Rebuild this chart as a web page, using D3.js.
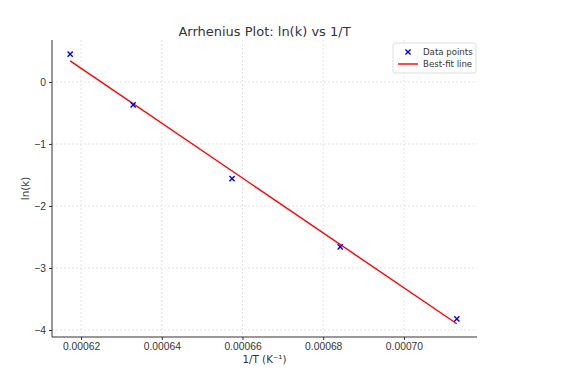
<!DOCTYPE html>
<html>
<head>
<meta charset="utf-8">
<script src="https://cdn.jsdelivr.net/npm/d3@7"></script>
<style>
  body { margin: 0; background: #fff; }
  svg { font-family: "DejaVu Sans", sans-serif; }
  .grid line { stroke: #dcdcdc; stroke-dasharray: 2,2; stroke-width: 0.8; }
  .axis path, .axis line { stroke: #333; }
  .axis text { fill: #333; font-size: 10.3px; }
</style>
</head>
<body>
<div id="chart"></div>
<script>
// inverse temperature (1/K) and ln(k)
const invT = [0.0006173, 0.0006329, 0.0006574, 0.0006842, 0.0007131];
const lnK = [0.45, -0.37, -1.56, -2.66, -3.82];
// best-fit line, drawn from first to last point
const fitX = [0.0006173, 0.0007131];
const fitY = [0.34, -3.90];
const xTicks = [0.00062, 0.00064, 0.00066, 0.00068, 0.00070];
const yTicks = [0, -1, -2, -3, -4];

const width = 577, height = 370;
const margin = { top: 40, right: 100, bottom: 33, left: 52 };
const w = width - margin.left - margin.right;
const h = height - margin.top - margin.bottom;

const svg = d3.select("#chart").append("svg")
  .attr("width", width).attr("height", height);
const g = svg.append("g").attr("transform", `translate(${margin.left},${margin.top})`);

const x = d3.scaleLinear().domain([0.0006128, 0.0007181]).range([0, w]);
const y = d3.scaleLinear().domain([-4.113, 0.677]).range([h, 0]);

// grid
g.append("g").attr("class", "grid")
  .selectAll("line").data(xTicks).enter().append("line")
  .attr("x1", d => x(d)).attr("x2", d => x(d)).attr("y1", 0).attr("y2", h);
g.append("g").attr("class", "grid")
  .selectAll("line").data(yTicks).enter().append("line")
  .attr("y1", d => y(d)).attr("y2", d => y(d)).attr("x1", 0).attr("x2", w);

// axes
g.append("g").attr("class", "axis")
  .attr("transform", `translate(0,${h})`)
  .call(d3.axisBottom(x).tickValues(xTicks).tickSize(3).tickPadding(3).tickFormat(d3.format(".5f")))
  .call(a => a.select(".domain").attr("d", `M0,0H${w}`));
g.append("g").attr("class", "axis")
  .call(d3.axisLeft(y).tickValues(yTicks).tickSize(3).tickPadding(3).tickFormat(d => d < 0 ? "\u2212" + Math.abs(d) : d))
  .call(a => a.select(".domain").attr("d", `M0,0V${h}`));

// fit line
g.append("line")
  .attr("x1", x(fitX[0])).attr("y1", y(fitY[0]))
  .attr("x2", x(fitX[1])).attr("y2", y(fitY[1]))
  .attr("stroke", "red").attr("stroke-width", 1.4);

// markers
const s = 2.6;
g.selectAll(".pt").data(invT.map((v, i) => [v, lnK[i]])).enter()
  .append("path").attr("class", "pt")
  .attr("d", d => {
    const cx = x(d[0]), cy = y(d[1]);
    return `M${cx - s},${cy - s}L${cx + s},${cy + s}M${cx - s},${cy + s}L${cx + s},${cy - s}`;
  })
  .attr("stroke", "blue").attr("stroke-width", 1.4);

// labels
svg.append("text").attr("x", margin.left + w / 2).attr("y", 36)
  .attr("text-anchor", "middle").attr("font-size", "13px").attr("fill", "#333")
  .text("Arrhenius Plot: ln(k) vs 1/T");
svg.append("text").attr("x", margin.left + w / 2).attr("y", height - 7)
  .attr("text-anchor", "middle").attr("font-size", "10.3px").attr("fill", "#333")
  .text("1/T (K\u207B\u00B9)");
svg.append("text").attr("transform", `translate(29,${margin.top + h / 2}) rotate(-90)`)
  .attr("text-anchor", "middle").attr("font-size", "10.3px").attr("fill", "#333")
  .text("ln(k)");

// legend
const lg = svg.append("g").attr("transform", "translate(393,43)");
lg.append("rect").attr("width", 83).attr("height", 30).attr("rx", 2)
  .attr("fill", "#fff").attr("fill-opacity", 0.8).attr("stroke", "#ddd");
const lx = 15, ly1 = 9, ly2 = 21;
lg.append("path")
  .attr("d", `M${lx - s},${ly1 - s}L${lx + s},${ly1 + s}M${lx - s},${ly1 + s}L${lx + s},${ly1 - s}`)
  .attr("stroke", "blue").attr("stroke-width", 1.4);
lg.append("line").attr("x1", 5).attr("x2", 25).attr("y1", ly2).attr("y2", ly2)
  .attr("stroke", "red").attr("stroke-width", 1.4);
lg.append("text").attr("x", 30).attr("y", ly1 + 3).attr("font-size", "8.6px").attr("fill", "#333").text("Data points");
lg.append("text").attr("x", 30).attr("y", ly2 + 3).attr("font-size", "8.6px").attr("fill", "#333").text("Best-fit line");
</script>
</body>
</html>
